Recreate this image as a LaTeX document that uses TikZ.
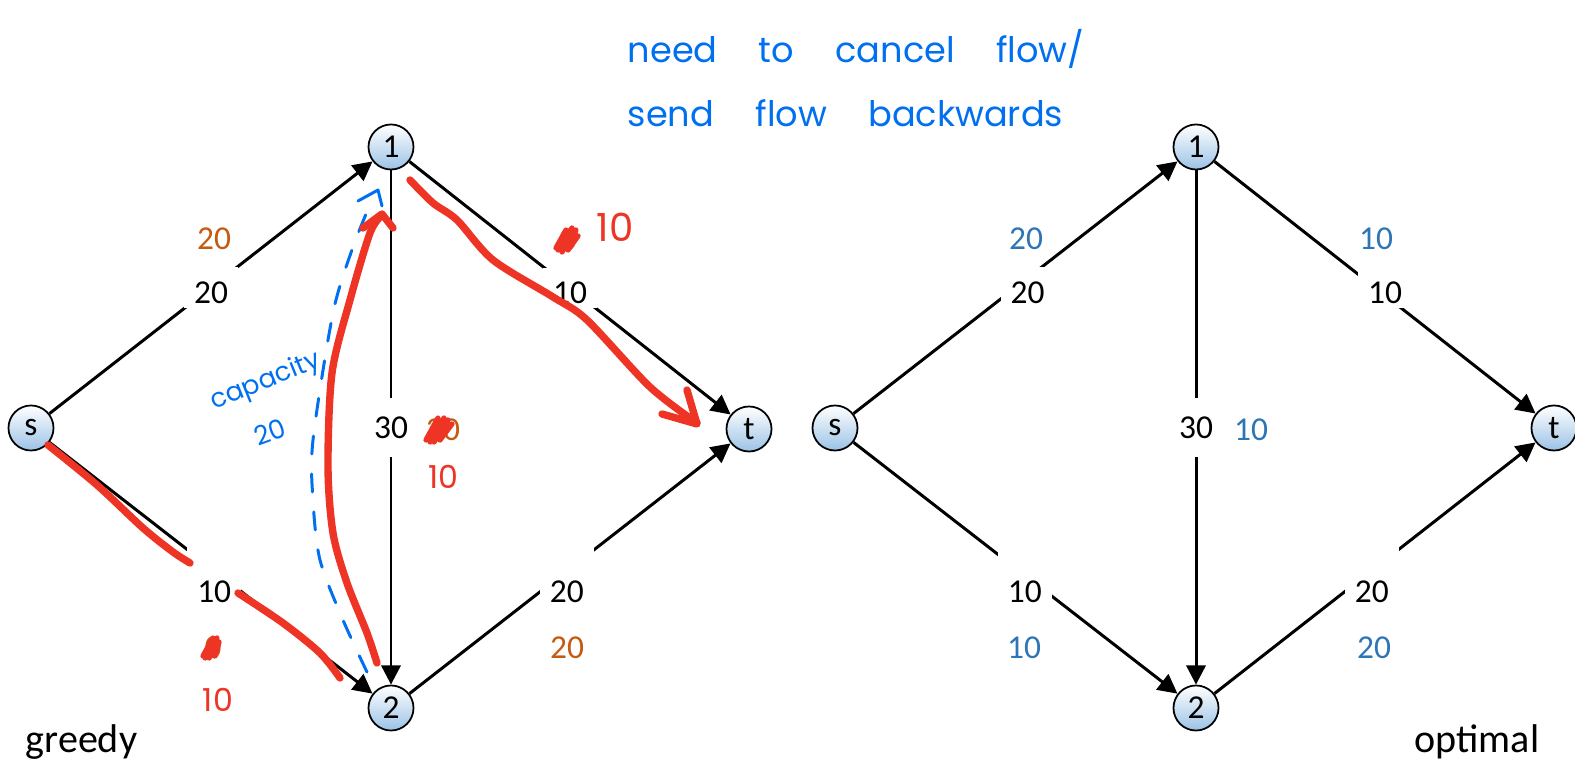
\documentclass[tikz,border=0pt]{standalone}
\usepackage{fontspec}
\setmainfont{Carlito}
\newfontfamily\handfont{Poppins}[WordSpace=4.4]
\usetikzlibrary{positioning,calc,arrows.meta}
\definecolor{nodeblue}{RGB}{155,194,230}
\definecolor{floworange}{RGB}{197,90,17}
\definecolor{flowblue}{RGB}{46,117,182}
\definecolor{penred}{RGB}{238,52,36}
\definecolor{penblue}{RGB}{0,112,240}

\begin{document}
\begin{tikzpicture}[x=0.01cm, y=-0.01cm, >={Triangle[length=5.5pt,width=5.5pt]},
  vertex/.style={circle, draw=black, line width=0.5pt, top color=white, bottom color=nodeblue, minimum size=0.45cm, inner sep=0pt, font=\fontsize{9.5}{11}\selectfont},
  arc/.style={->, line width=0.85pt},
  caplabel/.style={fill=white, inner xsep=0.1cm, inner ysep=0.04cm, text height=0.32cm, font=\fontsize{9.5}{11}\selectfont},
  lowlabel/.style={caplabel, text height=0.64cm, inner ysep=0.02cm},
  vlabel/.style={caplabel, text height=0.22cm, inner ysep=0.18cm, inner xsep=0.03cm},
  flowo/.style={inner sep=0pt, text=floworange, font=\fontsize{9.5}{11}\selectfont},
  flowb/.style={inner sep=0pt, text=flowblue, font=\fontsize{9.5}{11}\selectfont},
  handtext/.style={inner sep=0pt, text=penblue, font=\handfont\fontsize{10}{12}\selectfont},
  redtext/.style={inner sep=0pt, text=penred, font=\handfont\fontsize{9}{11}\selectfont},
  redpen/.style={penred, line width=2.1pt, line cap=round, line join=round},
  bluepen/.style={penblue, line width=0.85pt, line cap=round, line join=round},
  scribble/.style={penred, line width=1.5pt, line cap=round, line join=round},
  tagtext/.style={inner sep=0pt, font=\fontsize{11.4}{13}\selectfont}]

  \useasboundingbox (0,0) rectangle (1575,764);

  % greedy
  \node[vertex] (s) at (31,428) {s};
  \node[vertex] (n1) at (391,147) {1};
  \node[vertex] (n2) at (391,708) {2};
  \node[vertex] (t) at (749,429) {t};

  \draw[arc] (s) -- node[caplabel] {20} (n1);
  \draw[arc] (n1) -- node[caplabel] {10} (t);
  \draw[arc] (s) -- node[lowlabel, pos=.51] {10} (n2);
  \draw[arc] (n2) -- node[lowlabel, pos=.49] {20} (t);
  \draw[arc] (n1) -- node[vlabel] {30} (n2);

  \node[flowo] (fs1) at (214,239) {20};
  \node[flowo] (f1t) at (568,240) {0};
  \node[flowo] (f12) at (443,430) {20};
  \node[flowo] (fs2) at (213,648) {0};
  \node[flowo] (f2t) at (567,648) {20};

  % optimal
  \node[vertex] (rs) at (835,428) {s};
  \node[vertex] (r1) at (1196,147) {1};
  \node[vertex] (r2) at (1196,708) {2};
  \node[vertex] (rt) at (1554,428) {t};

  \draw[arc] (rs) -- node[caplabel, xshift=0.12cm] {20} (r1);
  \draw[arc] (r1) -- node[caplabel, xshift=0.1cm] {10} (rt);
  \draw[arc] (rs) -- node[lowlabel, pos=.51, xshift=0.06cm] {10} (r2);
  \draw[arc] (r2) -- node[lowlabel, pos=.49] {20} (rt);
  \draw[arc] (r1) -- node[vlabel] {30} (r2);

  \node[flowb] (gs1) at (1026,239) {20};
  \node[flowb] (g1t) at (1376,239) {10};
  \node[flowb] (g12) at (1251,430) {10};
  \node[flowb] (gs2) at (1024,648) {10};
  \node[flowb] (g2t) at (1374,648) {20};

  \node[tagtext, anchor=base west] (greedy) at (25,753) {greedy};
  \node[tagtext, anchor=base east] (optimal) at (1540,753) {optimal};

  % pen notes
  \node[handtext, anchor=base west] (note1) at (627,63) {need to cancel flow/};
  \node[handtext, anchor=base west] (note2) at (627,127) {send flow backwards};
  \node[handtext, font=\handfont\fontsize{7.5}{9}\selectfont, rotate=22] (capword) at (266,382) {capacity};
  \node[handtext, font=\handfont\fontsize{7.5}{9}\selectfont, rotate=20] (capnum) at (270,432) {20};

  \draw[bluepen, dash pattern=on 0.18cm off 0.2cm] plot[smooth] coordinates {(367,672) (343,620) (320,560) (313,500) (313,440) (333,313) (353,247) (372,200)};
  \draw[bluepen] (358,201) -- (378,190) -- (382,206);

  \draw[redpen] plot[smooth] coordinates {(48,445) (97,485) (143,528) (173,552) (190,563)};
  \draw[redpen] plot[smooth] coordinates {(238,593) (283,623) (320,653) (340,678)};
  \draw[redpen] plot[smooth] coordinates {(377,663) (367,633) (347,583) (333,533) (328,467) (332,373) (350,300) (370,233) (382,215)};
  \draw[redpen] (363,228) -- (382,214) -- (393,228);
  \draw[redpen] plot[smooth] coordinates {(410,180) (433,203) (457,220) (493,260) (553,297) (587,320) (650,387) (697,423)};
  \draw[redpen] (662,414) -- (697,424) -- (687,390);

  \draw[scribble] ([shift={(-12,8)}]f1t.center) -- ++(10,-18) -- ++(-8,20) -- ++(14,-22) -- ++(-10,24) -- ++(14,-22) -- ++(-8,20) -- ++(10,-14);
  \draw[scribble] ([shift={(-17,10)}]f12.center) -- ++(12,-22) -- ++(-8,24) -- ++(14,-24) -- ++(-10,24) -- ++(14,-22) -- ++(-8,20) -- ++(12,-16);
  \draw[scribble] ([shift={(-10,8)}]fs2.center) -- ++(10,-18) -- ++(-8,20) -- ++(12,-20) -- ++(-8,20) -- ++(10,-16) -- ++(-4,14);

  \node[redtext, font=\handfont\fontsize{11}{13}\selectfont] (r1t) at (615,227) {10};
  \node[redtext] (r12) at (443,477) {10};
  \node[redtext] (rs2) at (218,700) {10};
\end{tikzpicture}
\end{document}
